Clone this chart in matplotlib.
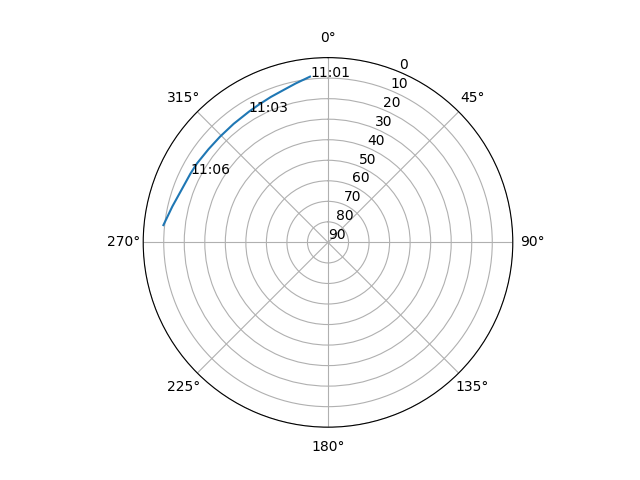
import matplotlib.pyplot as plt
import numpy as np

# Satellite pass (azimuth deg, elevation deg), 30 s steps
times = ['11:01', '', '', '', '', '11:03', '', '', '', '', '11:06', '', '', '']
azimuth = [353.8, 348.5, 343.7, 338.5, 333.5, 328.8, 321.5, 314.4,
           308.0, 301.1, 296.6, 289.7, 283.0, 276.0]
elevation = [8.8, 11.0, 12.7, 13.9, 14.9, 15.6, 16.2, 16.4,
             16.2, 15.5, 15.1, 14.2, 12.2, 9.4]

fig = plt.figure(figsize=(6.4, 4.8))
ax = fig.add_subplot(111, projection='polar')
ax.set_theta_zero_location('N')
ax.set_theta_direction(-1)

theta = np.radians(azimuth)
ax.plot(theta, elevation)

for t, th, el in zip(times, theta, elevation):
    if t:
        ax.text(th, el, t)

ax.set_ylim(90, 0)
ax.set_yticks(range(0, 91, 10))

plt.savefig('out.png', dpi=100)
plt.close()
